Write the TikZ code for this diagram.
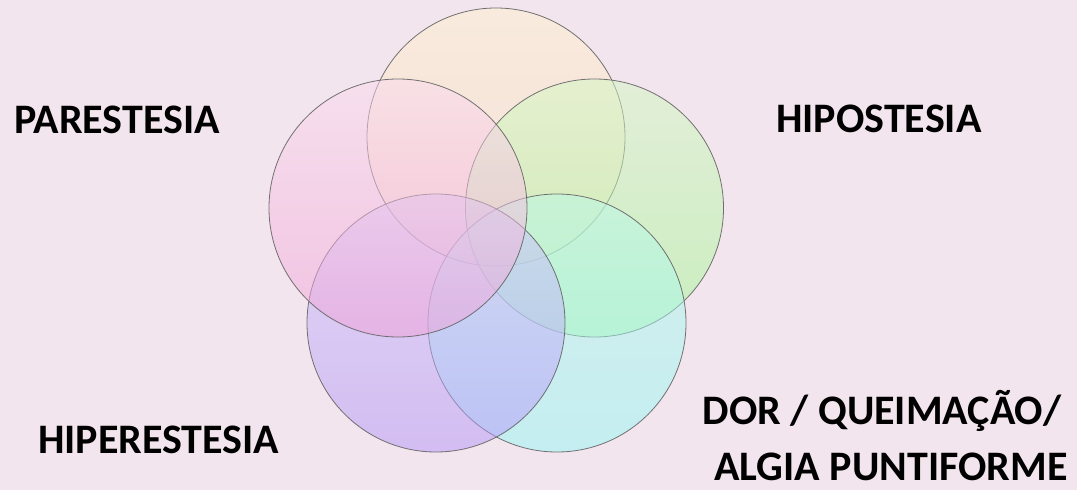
\documentclass[tikz,border=0pt]{standalone}
\usepackage{fontspec}
\setmainfont{Carlito}
\definecolor{bg}{RGB}{243,229,237}
\definecolor{edge}{RGB}{100,100,100}
\definecolor{topA}{RGB}{253,240,207}
\definecolor{topB}{RGB}{251,219,193}
\definecolor{grnA}{RGB}{212,248,196}
\definecolor{grnB}{RGB}{160,248,145}
\definecolor{cyaA}{RGB}{187,248,232}
\definecolor{cyaB}{RGB}{150,248,247}
\definecolor{purA}{RGB}{207,200,253}
\definecolor{purB}{RGB}{180,150,247}
\definecolor{pnkA}{RGB}{250,219,239}
\definecolor{pnkB}{RGB}{240,160,215}
\tikzset{
  ring/.style={circle, draw=edge, line width=0.8pt, minimum size=258pt, inner sep=0pt, fill opacity=0.5, draw opacity=0.9},
  lbl/.style={font=\bfseries\fontsize{42}{42}\selectfont, text=black, inner sep=0pt, text depth=0pt, anchor=base west}
}
\begin{document}
\begin{tikzpicture}[x=1pt,y=-1pt]
\fill[bg] (0,0) rectangle (1077,490);
\useasboundingbox (0,0) rectangle (1077,490);
\node[ring, top color=topA, bottom color=topB] (c1) at (496,137) {};
\node[ring, top color=grnA, bottom color=grnB] (c2) at (594.5,208) {};
\node[ring, top color=cyaA, bottom color=cyaB] (c3) at (557,323) {};
\node[ring, top color=purA, bottom color=purB] (c4) at (436,323) {};
\node[ring, top color=pnkA, bottom color=pnkB] (c5) at (398,208) {};
\node[lbl] (t1) at (14,133) {PARESTESIA};
\node[lbl] (t2) at (776,132) {HIPOSTESIA};
\node[lbl] (t3) at (38,453) {HIPERESTESIA};
\node[lbl, anchor=base] (t4) at (882,424) {DOR / QUEIMAÇÃO/};
\node[lbl, anchor=base] (t5) at (891,480) {ALGIA PUNTIFORME};
\end{tikzpicture}
\end{document}
